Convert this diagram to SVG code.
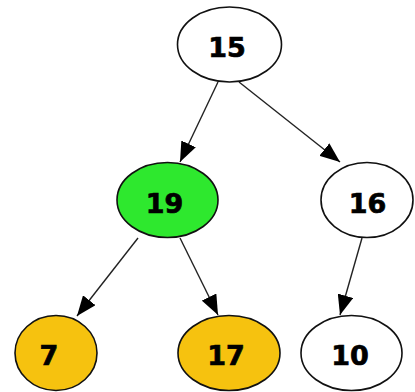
<svg xmlns="http://www.w3.org/2000/svg" width="415" height="392" viewBox="0 0 415 392">
<style>
.node ellipse{stroke:#111;stroke-width:1.6}
.white{fill:#fff}
.green{fill:#2ee82e}
.orange{fill:#f6c20f}
.node text{font-family:"DejaVu Sans",sans-serif;font-weight:bold;font-size:27px;fill:#000;stroke:#000;stroke-width:0.7;text-anchor:middle}
.edges line{stroke:#222;stroke-width:1.4;marker-end:url(#arrow)}
</style>
<defs>
<marker id="arrow" markerUnits="userSpaceOnUse" markerWidth="20" markerHeight="16" viewBox="0 0 20 16" refX="20" refY="8" orient="auto">
<path d="M0,0 L20,8 L0,16 z" fill="#000"/>
</marker>
</defs>
<rect width="415" height="392" fill="#fff"/>
<g class="edges">
<line x1="218" y1="82" x2="180" y2="162"/>
<line x1="239" y1="82" x2="340" y2="162"/>
<line x1="138" y1="238" x2="77" y2="316"/>
<line x1="180" y1="238" x2="218" y2="315"/>
<line x1="362" y1="238" x2="340" y2="315"/>
</g>
<g id="n15" class="node"><ellipse class="white" cx="229.5" cy="44.5" rx="52" ry="37.5"/><text x="227" y="57">15</text></g>
<g id="n19" class="node"><ellipse class="green" cx="167.5" cy="200" rx="50.5" ry="37.5"/><text x="164.5" y="212.5">19</text></g>
<g id="n16" class="node"><ellipse class="white" cx="367" cy="200" rx="46" ry="37.5"/><text x="367.5" y="212.5">16</text></g>
<g id="n7" class="node"><ellipse class="orange" cx="56" cy="353" rx="41" ry="37.5"/><text x="49" y="365">7</text></g>
<g id="n17" class="node"><ellipse class="orange" cx="229" cy="353" rx="51" ry="37.5"/><text x="226" y="365">17</text></g>
<g id="n10" class="node"><ellipse class="white" cx="351.5" cy="353" rx="50.5" ry="37.5"/><text x="350" y="365">10</text></g>
</svg>
